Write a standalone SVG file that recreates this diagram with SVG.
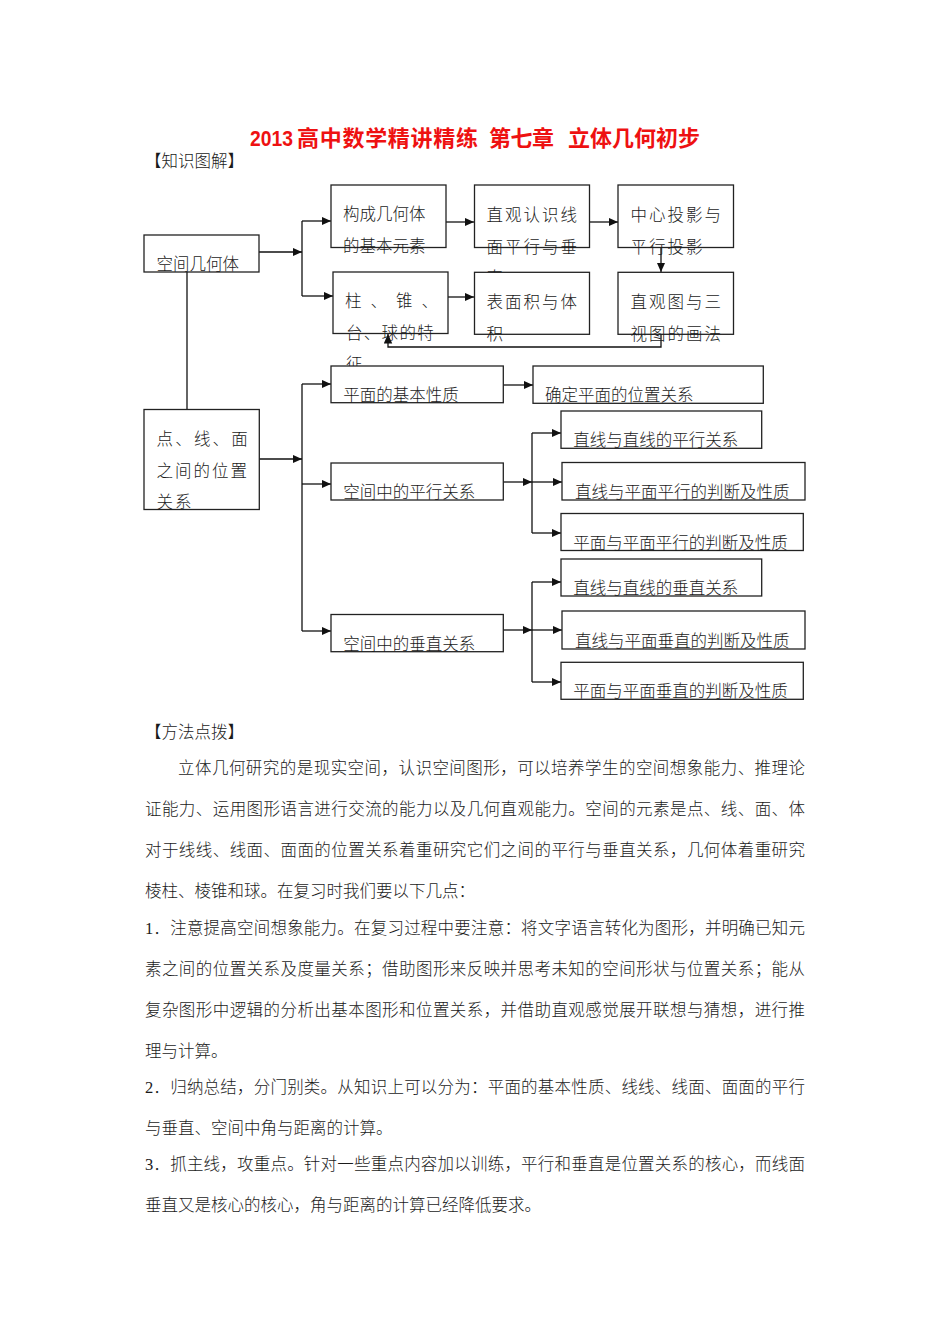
<svg xmlns="http://www.w3.org/2000/svg" width="950" height="1344" viewBox="0 0 950 1344">
<style>
.t{font-family:"Noto Sans CJK SC",sans-serif;font-size:16.5px;font-weight:300;fill:#1a1a1a}
.s{letter-spacing:2px}
.b{fill:#fff;stroke:#222;stroke-width:1.3}
.c{fill:none;stroke:#111;stroke-width:1.3}
.a{marker-end:url(#ah)}
.p{font-family:"Liberation Serif","Noto Sans CJK SC",serif;font-size:16.5px;font-weight:300;fill:#1a1a1a}
.ti{font-family:"Liberation Sans","Noto Sans CJK SC",sans-serif;font-size:22px;font-weight:bold;fill:#ee1111}
</style>
<defs>
<marker id="ah" markerUnits="userSpaceOnUse" markerWidth="10" markerHeight="9" refX="9.5" refY="4.25" orient="auto">
<path d="M0,0 L9.5,4.25 L0,8.5 z" fill="#111"/>
</marker>
</defs>
<rect width="950" height="1344" fill="#fff"/>
<g id="title">
<text class="ti" x="250" y="146" textLength="43" lengthAdjust="spacingAndGlyphs">2013</text>
<text class="ti" x="297" y="146" textLength="181">高中数学精讲精练</text>
<text class="ti" x="489" y="146" textLength="65">第七章</text>
<text class="ti" x="568" y="146" textLength="132">立体几何初步</text>
</g>
<text class="p" x="145" y="167">【知识图解】</text>
<g id="connectors">
<path class="c a" d="M259,252 H302"/>
<path class="c" d="M302,221 V296"/>
<path class="c a" d="M302,221 H331"/>
<path class="c a" d="M302,296 H333"/>
<path class="c a" d="M446,222 H474"/>
<path class="c a" d="M589,222 H618"/>
<path class="c a" d="M661,247 V272"/>
<path class="c a" d="M448,297 H474"/>
<path class="c a" d="M661,334 V347 H388 V334"/>
<path class="c" d="M187,272 V409"/>
<path class="c a" d="M259,459 H302"/>
<path class="c" d="M302,384 V631"/>
<path class="c a" d="M302,384 H331"/>
<path class="c a" d="M302,484 H331"/>
<path class="c a" d="M302,631 H331"/>
<path class="c a" d="M503,385 H533"/>
<path class="c a" d="M503,482 H532"/>
<path class="c" d="M532,433 V533"/>
<path class="c a" d="M532,433 H561"/>
<path class="c a" d="M532,482 H562"/>
<path class="c a" d="M532,533 H561"/>
<path class="c a" d="M503,630 H532"/>
<path class="c" d="M532,582 V682"/>
<path class="c a" d="M532,582 H561"/>
<path class="c a" d="M532,630 H562"/>
<path class="c a" d="M532,682 H561"/>
</g>
<g id="n-kongjian">
<rect class="b" x="144" y="235" width="115" height="37"/>
<text class="t" x="156.5" y="270">空间几何体</text>
</g>
<g id="n-goucheng">
<rect class="b" x="331" y="185" width="115" height="62.5"/>
<text class="t" x="343" y="220">构成几何体</text>
<text class="t" x="343" y="251.5">的基本元素</text>
</g>
<g id="n-zhiguan">
<rect class="b" x="474.5" y="185" width="115" height="62.5"/>
<text class="t s" x="486.5" y="221">直观认识线</text>
<text class="t s" x="486.5" y="252.5">面平行与垂</text>
<text class="t s" x="486.5" y="284">直</text>
</g>
<g id="n-zhongxin">
<rect class="b" x="618" y="185" width="115.5" height="62.5"/>
<text class="t s" x="630.5" y="221">中心投影与</text>
<text class="t s" x="630.5" y="252.5">平行投影</text>
</g>
<g id="n-zhu">
<rect class="b" x="333" y="272" width="115" height="61.5"/>
<text class="t" x="345 370.5 396 421.5" y="307">柱、锥、</text>
<text class="t" x="346" y="338.5" letter-spacing="1.3">台、球的特</text>
<text class="t" x="346" y="370">征</text>
</g>
<g id="n-biaomian">
<rect class="b" x="474.5" y="272.3" width="115" height="62"/>
<text class="t s" x="486.5" y="308">表面积与体</text>
<text class="t s" x="486.5" y="339.5">积</text>
</g>
<g id="n-zhiguantu">
<rect class="b" x="618" y="272.3" width="115.5" height="62"/>
<text class="t s" x="630.5" y="308">直观图与三</text>
<text class="t s" x="630.5" y="339.5">视图的画法</text>
</g>
<g id="n-dianxian">
<rect class="b" x="144" y="409.5" width="115.3" height="100"/>
<text class="t" x="156.5" y="445" letter-spacing="2.2">点、线、面</text>
<text class="t s" x="156.5" y="476.5">之间的位置</text>
<text class="t s" x="156.5" y="508">关系</text>
</g>
<g id="n-pingmian">
<rect class="b" x="331" y="366" width="172.3" height="36.7"/>
<text class="t" x="343.3" y="400.5">平面的基本性质</text>
</g>
<g id="n-queding">
<rect class="b" x="533" y="366" width="230.3" height="37.3"/>
<text class="t" x="545" y="400.5">确定平面的位置关系</text>
</g>
<g id="n-pingxing">
<rect class="b" x="331" y="463" width="172.3" height="37"/>
<text class="t" x="343.3" y="498">空间中的平行关系</text>
</g>
<g id="n-px1">
<rect class="b" x="561" y="411" width="200.7" height="37.3"/>
<text class="t" x="573.3" y="446">直线与直线的平行关系</text>
</g>
<g id="n-px2">
<rect class="b" x="562" y="462.5" width="243" height="37.5"/>
<text class="t" x="575" y="497.5">直线与平面平行的判断及性质</text>
</g>
<g id="n-px3">
<rect class="b" x="561" y="513.5" width="242.3" height="37"/>
<text class="t" x="573.3" y="548.5">平面与平面平行的判断及性质</text>
</g>
<g id="n-chuizhi">
<rect class="b" x="331" y="614.5" width="172.3" height="37.2"/>
<text class="t" x="343.3" y="649.5">空间中的垂直关系</text>
</g>
<g id="n-cz1">
<rect class="b" x="561" y="559" width="200.7" height="37"/>
<text class="t" x="573.3" y="594">直线与直线的垂直关系</text>
</g>
<g id="n-cz2">
<rect class="b" x="562" y="611" width="243" height="38"/>
<text class="t" x="575" y="646.5">直线与平面垂直的判断及性质</text>
</g>
<g id="n-cz3">
<rect class="b" x="561" y="662.3" width="242.3" height="37"/>
<text class="t" x="573.3" y="696.5">平面与平面垂直的判断及性质</text>
</g>
<g id="body">
<text class="p" x="145" y="737.5">【方法点拨】</text>
<text class="p" x="178" y="773.5" textLength="627" lengthAdjust="spacing">立体几何研究的是现实空间，认识空间图形，可以培养学生的空间想象能力、推理论</text>
<text class="p" x="145" y="814.5" textLength="660" lengthAdjust="spacing">证能力、运用图形语言进行交流的能力以及几何直观能力。空间的元素是点、线、面、体</text>
<text class="p" x="145" y="855.5" textLength="660" lengthAdjust="spacing">对于线线、线面、面面的位置关系着重研究它们之间的平行与垂直关系，几何体着重研究</text>
<text class="p" x="145" y="896.5">棱柱、棱锥和球。在复习时我们要以下几点：</text>
<text class="p" x="145" y="933.5" textLength="660" lengthAdjust="spacing">1．注意提高空间想象能力。在复习过程中要注意：将文字语言转化为图形，并明确已知元</text>
<text class="p" x="145" y="974.5" textLength="660" lengthAdjust="spacing">素之间的位置关系及度量关系；借助图形来反映并思考未知的空间形状与位置关系；能从</text>
<text class="p" x="145" y="1015.5" textLength="660" lengthAdjust="spacing">复杂图形中逻辑的分析出基本图形和位置关系，并借助直观感觉展开联想与猜想，进行推</text>
<text class="p" x="145" y="1056.5">理与计算。</text>
<text class="p" x="145" y="1092.5" textLength="660" lengthAdjust="spacing">2．归纳总结，分门别类。从知识上可以分为：平面的基本性质、线线、线面、面面的平行</text>
<text class="p" x="145" y="1133.5">与垂直、空间中角与距离的计算。</text>
<text class="p" x="145" y="1169.5" textLength="660" lengthAdjust="spacing">3．抓主线，攻重点。针对一些重点内容加以训练，平行和垂直是位置关系的核心，而线面</text>
<text class="p" x="145" y="1210.5">垂直又是核心的核心，角与距离的计算已经降低要求。</text>
</g>
</svg>
